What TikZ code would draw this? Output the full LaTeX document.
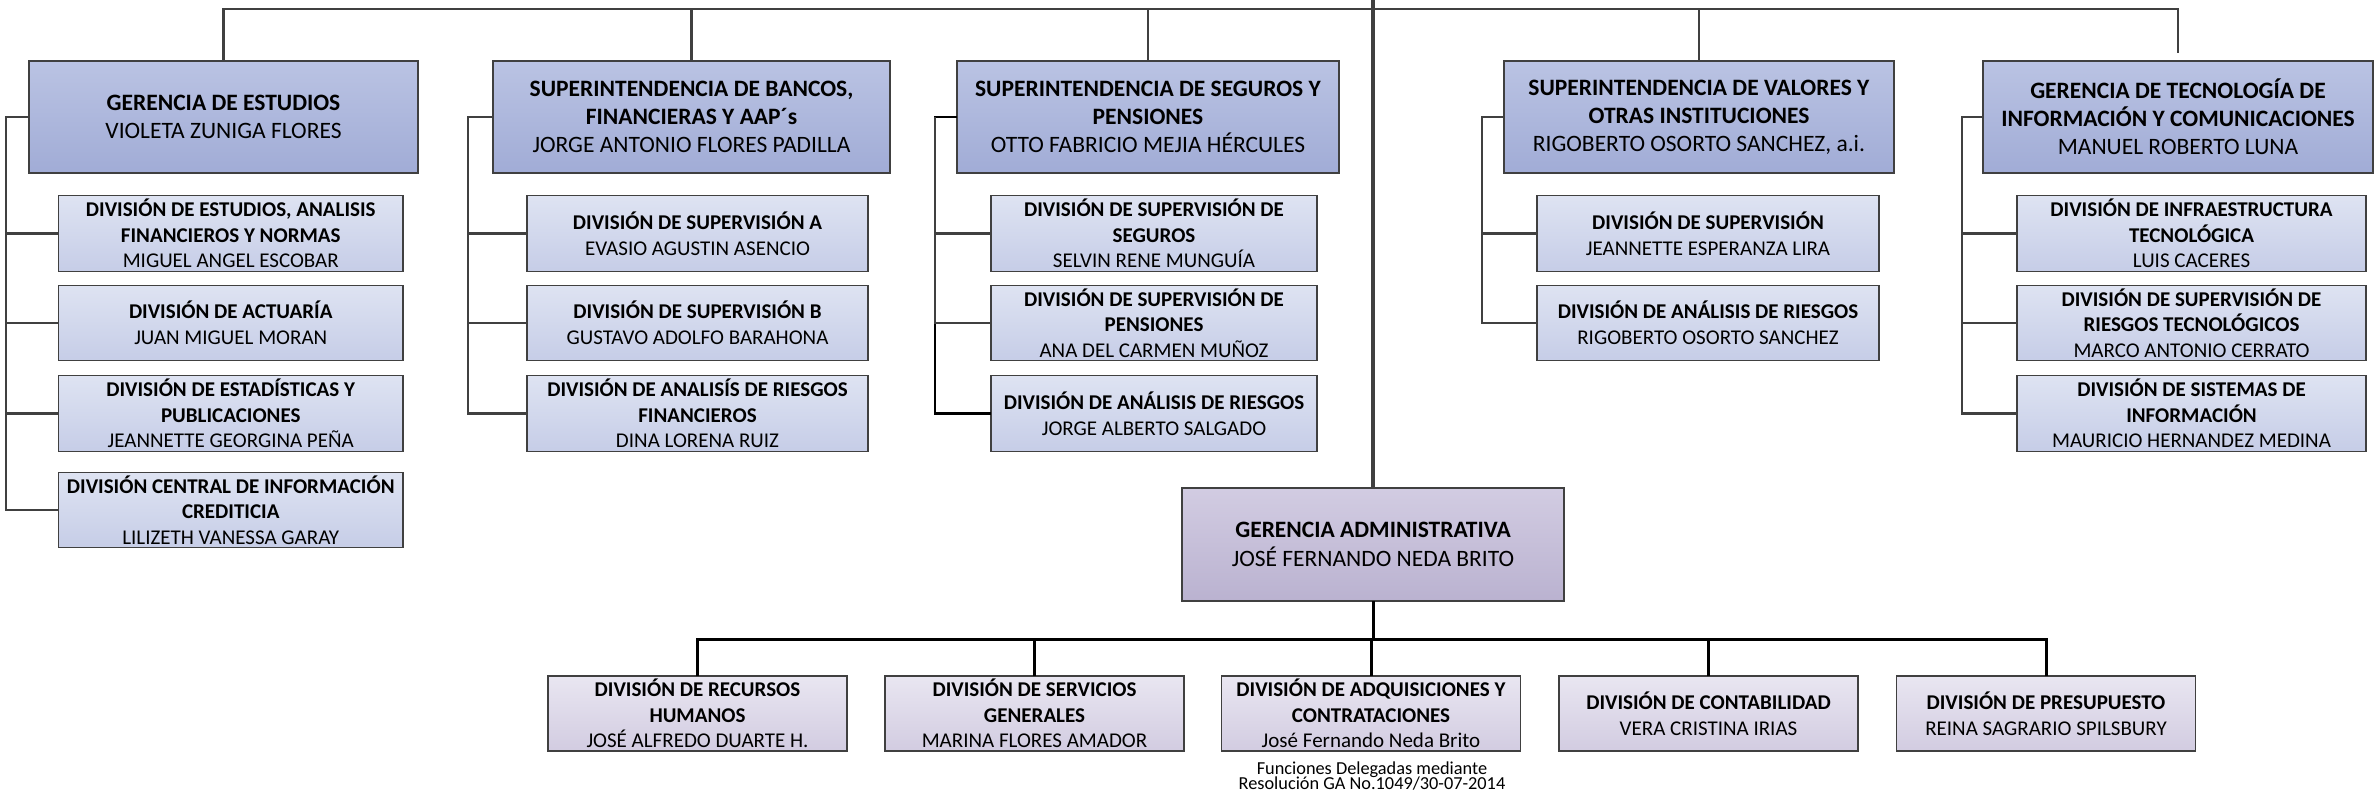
\documentclass[tikz,border=0pt]{standalone}
\usepackage{fontspec}
\setmainfont{Carlito}
\definecolor{bordc}{RGB}{64,64,64}
\definecolor{topA}{RGB}{186,195,227}
\definecolor{topB}{RGB}{161,172,214}
\definecolor{subA}{RGB}{222,227,242}
\definecolor{subB}{RGB}{198,205,231}
\definecolor{admA}{RGB}{210,204,226}
\definecolor{admB}{RGB}{186,178,208}
\definecolor{botA}{RGB}{233,230,241}
\definecolor{botB}{RGB}{210,204,225}
\newcommand{\notefnt}{\fontsize{18.3}{15}\selectfont}
\tikzset{
 box/.style={draw=bordc, line width=1.4pt, rectangle, align=center, inner sep=0pt, outer sep=0pt, text=black},
 topbox/.style={box, top color=topA, bottom color=topB, minimum height=112pt, font=\fontsize{23.5}{28}\selectfont},
 subbox/.style={box, top color=subA, bottom color=subB, minimum height=75.5pt, font=\fontsize{21}{25.7}\selectfont},
 admbox/.style={box, top color=admA, bottom color=admB, minimum height=113pt, minimum width=382pt, font=\fontsize{23.5}{28.5}\selectfont},
 botbox/.style={box, top color=botA, bottom color=botB, minimum height=75pt, minimum width=299pt, font=\fontsize{21}{25.7}\selectfont},
 conn/.style={draw=bordc, line width=2.2pt},
 conndark/.style={draw=black, line width=2.2pt},
 mainline/.style={draw=bordc, line width=4pt},
 bline/.style={draw=black, line width=3pt},
 note/.style={font=\notefnt, inner sep=0pt, text=black}
}
\begin{document}
\begin{tikzpicture}[x=1pt,y=-1pt]
\fill[white] (0,0) rectangle (2374,796);
\useasboundingbox (0,0) rectangle (2374,796);

% ---- top level boxes
\node[topbox, minimum width=389pt] (est) at (223.5,117) {\textbf{GERENCIA DE ESTUDIOS}\\VIOLETA ZUNIGA FLORES};
\node[topbox, minimum width=397pt] (ban) at (691.5,117) {\textbf{SUPERINTENDENCIA DE BANCOS,}\\\textbf{FINANCIERAS Y AAP´s}\\JORGE ANTONIO FLORES PADILLA};
\node[topbox, minimum width=382pt] (seg) at (1148,117) {\textbf{SUPERINTENDENCIA DE SEGUROS Y}\\\textbf{PENSIONES}\\OTTO FABRICIO MEJIA HÉRCULES};
\node[topbox, minimum width=390pt] (val) at (1699,117) {\textbf{SUPERINTENDENCIA DE VALORES Y}\\\textbf{OTRAS INSTITUCIONES}\\RIGOBERTO OSORTO SANCHEZ, a.i.};
\node[topbox, minimum width=390pt] (tic) at (2178,117) {\textbf{GERENCIA DE TECNOLOGÍA DE}\\\textbf{INFORMACIÓN Y COMUNICACIONES}\\MANUEL ROBERTO LUNA};

% ---- column 1
\node[subbox, minimum width=344.5pt] (e1) at (230.75,233.5) {\textbf{DIVISIÓN DE ESTUDIOS, ANALISIS}\\\textbf{FINANCIEROS Y NORMAS}\\MIGUEL ANGEL ESCOBAR};
\node[subbox, minimum width=344.5pt] (e2) at (230.75,323) {\textbf{DIVISIÓN DE ACTUARÍA}\\JUAN MIGUEL MORAN};
\node[subbox, minimum width=344.5pt] (e3) at (230.75,413.5) {\textbf{DIVISIÓN DE ESTADÍSTICAS Y}\\\textbf{PUBLICACIONES}\\JEANNETTE GEORGINA PEÑA};
\node[subbox, minimum width=344.5pt] (e4) at (230.75,510) {\textbf{DIVISIÓN CENTRAL DE INFORMACIÓN}\\\textbf{CREDITICIA}\\LILIZETH VANESSA GARAY};

% ---- column 2
\node[subbox, minimum width=341pt] (b1) at (697.5,233.5) {\textbf{DIVISIÓN DE SUPERVISIÓN A}\\EVASIO AGUSTIN ASENCIO};
\node[subbox, minimum width=341pt] (b2) at (697.5,323) {\textbf{DIVISIÓN DE SUPERVISIÓN B}\\GUSTAVO ADOLFO BARAHONA};
\node[subbox, minimum width=341pt] (b3) at (697.5,413.5) {\textbf{DIVISIÓN DE ANALISÍS DE RIESGOS}\\\textbf{FINANCIEROS}\\DINA LORENA RUIZ};

% ---- column 3
\node[subbox, minimum width=326pt] (s1b) at (1154,233.5) {\textbf{DIVISIÓN DE SUPERVISIÓN DE}\\\textbf{SEGUROS}\\SELVIN RENE MUNGUÍA};
\node[subbox, minimum width=326pt] (s2b) at (1154,323) {\textbf{DIVISIÓN DE SUPERVISIÓN DE}\\\textbf{PENSIONES}\\ANA DEL CARMEN MUÑOZ};
\node[subbox, minimum width=326pt] (s3b) at (1154,413.5) {\textbf{DIVISIÓN DE ANÁLISIS DE RIESGOS}\\JORGE ALBERTO SALGADO};

% ---- column 4
\node[subbox, minimum width=342pt] (v1) at (1708,233.5) {\textbf{DIVISIÓN DE SUPERVISIÓN}\\JEANNETTE ESPERANZA LIRA};
\node[subbox, minimum width=342pt] (v2) at (1708,323) {\textbf{DIVISIÓN DE ANÁLISIS DE RIESGOS}\\RIGOBERTO OSORTO SANCHEZ};

% ---- column 5
\node[subbox, minimum width=349pt] (t1) at (2191.5,233.5) {\textbf{DIVISIÓN DE INFRAESTRUCTURA}\\\textbf{TECNOLÓGICA}\\LUIS CACERES};
\node[subbox, minimum width=349pt] (t2) at (2191.5,323) {\textbf{DIVISIÓN DE SUPERVISIÓN DE}\\\textbf{RIESGOS TECNOLÓGICOS}\\MARCO ANTONIO CERRATO};
\node[subbox, minimum width=349pt] (t3) at (2191.5,413.5) {\textbf{DIVISIÓN DE SISTEMAS DE}\\\textbf{INFORMACIÓN}\\MAURICIO HERNANDEZ MEDINA};

% ---- administrative branch
\node[admbox] (adm) at (1373,544.5) {\textbf{GERENCIA ADMINISTRATIVA}\\JOSÉ FERNANDO NEDA BRITO};
\node[botbox] (rh) at (697.5,713.5) {\textbf{DIVISIÓN DE RECURSOS}\\\textbf{HUMANOS}\\JOSÉ ALFREDO DUARTE H.};
\node[botbox] (sg) at (1034.5,713.5) {\textbf{DIVISIÓN DE SERVICIOS}\\\textbf{GENERALES}\\MARINA FLORES AMADOR};
\node[botbox] (aq) at (1371,713.5) {\textbf{DIVISIÓN DE ADQUISICIONES Y}\\\textbf{CONTRATACIONES}\\José Fernando Neda Brito};
\node[botbox] (ct) at (1708.5,713.5) {\textbf{DIVISIÓN DE CONTABILIDAD}\\VERA CRISTINA IRIAS};
\node[botbox] (pr) at (2046,713.5) {\textbf{DIVISIÓN DE PRESUPUESTO}\\REINA SAGRARIO SPILSBURY};
\node[note, anchor=base] (nota1) at (1372,774) {Funciones Delegadas mediante};
\node[note, anchor=base] (nota2) at (1372,789) {Resolución GA No.1049/30-07-2014};

% ---- connectors: top bus
\coordinate (bus) at (0,9);
\coordinate (ticend) at (2178,53);
\draw[conn] (est.north) -- (est.north |- bus) -- (tic.north |- bus) -- (ticend);
\foreach \n in {ban,seg,val} \draw[conn] (\n.north) -- (\n.north |- bus);

% ---- spines
\coordinate (sp1) at (6,117);
\draw[conn] (est.west) -- (sp1) |- (e4.west);
\foreach \n in {e1,e2,e3} \draw[conn] (sp1) |- (\n.west);
\coordinate (sp2) at (468,117);
\draw[conn] (ban.west) -- (sp2) |- (b3.west);
\foreach \n in {b1,b2} \draw[conn] (sp2) |- (\n.west);
\coordinate (sp3) at (935,117);
\draw[conndark] (seg.west) -- (sp3) |- (s3b.west);
\foreach \n in {s1b,s2b} \draw[conn] (sp3) |- (\n.west);
\coordinate (sp4) at (1482,117);
\draw[conn] (val.west) -- (sp4) |- (v2.west);
\draw[conn] (sp4) |- (v1.west);
\coordinate (sp5) at (1962,117);
\draw[conn] (tic.west) -- (sp5) |- (t3.west);
\foreach \n in {t1,t2} \draw[conn] (sp5) |- (\n.west);

% ---- main vertical
\coordinate (topc) at (1373,0);
\draw[mainline] (topc) -- (adm.north);

% ---- bottom bus
\coordinate (bbus) at (0,639);
\draw[bline] (adm.south) -- (adm.south |- bbus);
\draw[bline] (rh.north) -- (rh.north |- bbus) -- (pr.north |- bbus) -- (pr.north);
\foreach \n in {sg,aq,ct} \draw[bline] (\n.north) -- (\n.north |- bbus);
\end{tikzpicture}
\end{document}
